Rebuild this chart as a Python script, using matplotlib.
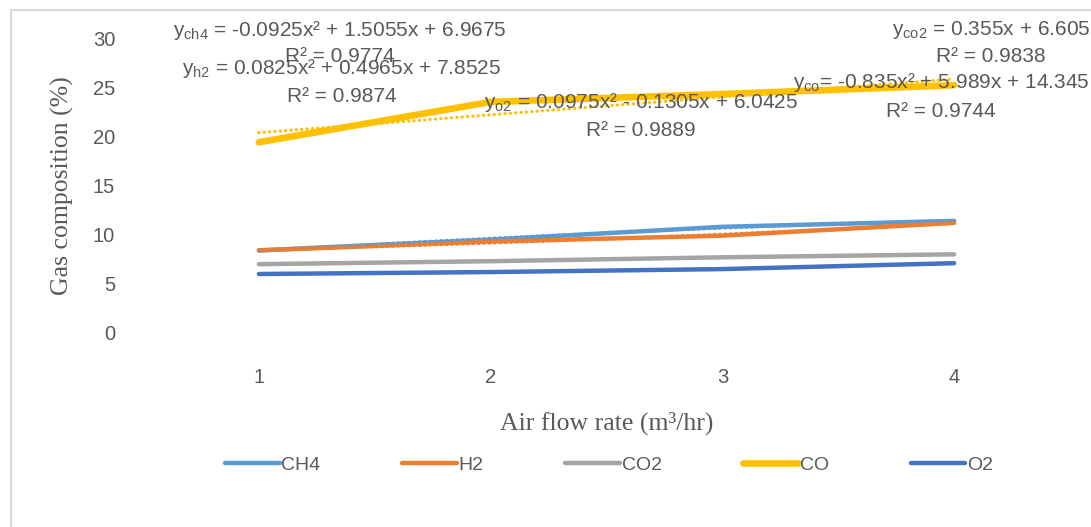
import numpy as np
import matplotlib.pyplot as plt
from matplotlib.patches import Rectangle

plt.rcParams['font.family'] = ['Liberation Sans', 'DejaVu Sans']

flow = [1, 2, 3, 4]
series = ['CH4', 'H2', 'CO2', 'CO', 'O2']
ch4 = [8.4, 9.5, 10.8, 11.4]
h2 = [8.4, 9.3, 9.9, 11.2]
co2 = [7.0, 7.3, 7.7, 8.0]
co = [19.4, 23.5, 24.3, 25.2]
o2 = [6.0, 6.2, 6.5, 7.1]
trend_deg = [2, 2, 1, 1, 2]

eq_labels = [
    (r'y$\mathregular{_{ch4}}$ = -0.0925x² + 1.5055x + 6.9675', 'R² = 0.9774'),
    (r'y$\mathregular{_{h2}}$ = 0.0825x² + 0.4965x + 7.8525', 'R² = 0.9874'),
    (r'y$\mathregular{_{co2}}$ = 0.355x + 6.605', 'R² = 0.9838'),
    (r'y$\mathregular{_{co}}$= -0.835x² + 5.989x + 14.345', 'R² = 0.9744'),
    (r'y$\mathregular{_{o2}}$ = 0.0975x² - 0.1305x + 6.0425', 'R² = 0.9889'),
]

colors = ['#5B9BD5', '#ED7D31', '#A5A5A5', '#FFC000', '#4472C4']
widths = [3.2, 3.2, 3.2, 4.8, 3.2]
grey = '#595959'

fig = plt.figure(figsize=(10.91, 5.27), dpi=100)
fig.patches.append(Rectangle((11 / 1091, -0.1), 1.2, 1 - 10 / 527 + 0.1,
                             transform=fig.transFigure, fill=False,
                             edgecolor='#D9D9D9', linewidth=1.5))
ax = fig.add_axes([143 / 1091, 1 - 333 / 527, 927 / 1091, 295 / 527])

data = [ch4, h2, co2, co, o2]
xs = np.array(flow, dtype=float)
for name, vals, c, lw in zip(series, data, colors, widths):
    ax.plot(flow, vals, color=c, linewidth=lw, solid_capstyle='round',
            label=name, zorder=3)
for vals, c, d in zip(data, colors, trend_deg):
    coef = np.polyfit(xs, vals, d)
    xf = np.linspace(1, 4, 60)
    ax.plot(xf, np.polyval(coef, xf), color=c, linewidth=2.4,
            linestyle=(0, (0.01, 1.6)), dash_capstyle='round', zorder=4)

ax.set_xlim(0.5, 4.5)
ax.set_ylim(0, 30)
ax.set_xticks(flow)
ax.set_yticks(range(0, 31, 5))
ax.tick_params(length=0, labelsize=14.5, colors=grey, pad=20)
ax.tick_params(axis='x', pad=25)
for s in ax.spines.values():
    s.set_visible(False)

ax.set_xlabel('Air flow rate (m³/hr)', family='Liberation Serif',
              fontsize=18.5, color=grey)
ax.xaxis.set_label_coords((607 - 143) / 927, -(423 - 333) / 295)
ax.xaxis.label.set_va('center')
ax.set_ylabel('Gas composition (%)', family='Liberation Serif',
              fontsize=18.5, color=grey)
ax.yaxis.set_label_coords(-(143 - 62) / 927, (333 - 186) / 295)
ax.yaxis.label.set_va('center')

# trendline equation boxes, pixel centres from the reference
pos = [(340, 30, 57), (342, 68, 96), (991, 30, 57), (941, 83, 111), (641, 102, 131)]
for (eq, r2), (px, py1, py2) in zip(eq_labels, pos):
    fig.text(px / 1091, 1 - py1 / 527, eq, ha='center', va='center',
             fontsize=15, color=grey, zorder=5)
    fig.text(px / 1091, 1 - py2 / 527, r2, ha='center', va='center',
             fontsize=15, color=grey, zorder=5)

fig.legend(loc='center', bbox_to_anchor=(609 / 1091, 1 - 465 / 527), ncol=5,
           frameon=False, fontsize=14, labelcolor=grey, handlelength=2.8,
           handletextpad=0.1, columnspacing=4.2)

fig.savefig('out.png', dpi=100)
